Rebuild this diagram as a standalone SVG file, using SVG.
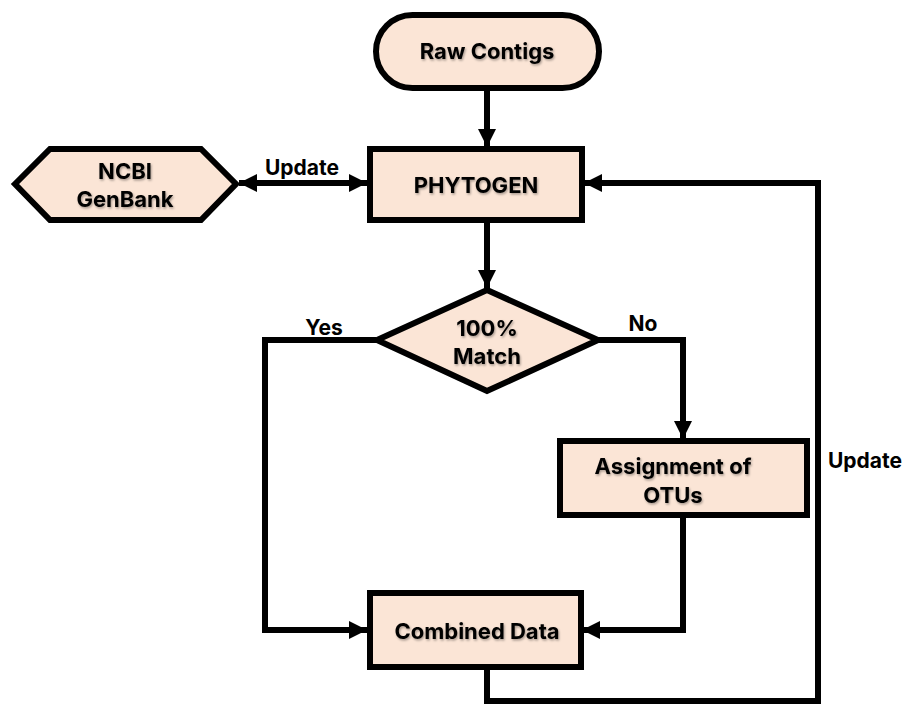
<svg xmlns="http://www.w3.org/2000/svg" width="906" height="708" viewBox="0 0 906 708">
<style>
.n{fill:#FBE5D6;stroke:#000;stroke-width:6}
.t{font-family:Inter,"Open Sans",sans-serif;font-weight:bold;font-size:22px;fill:#000;text-anchor:middle;filter:url(#sh)}
.l{font-family:Inter,"Open Sans",sans-serif;font-weight:bold;font-size:21px;fill:#000;text-anchor:middle}
.c{fill:none;stroke:#000;stroke-width:6}
</style>
<defs>
<marker id="a" markerUnits="userSpaceOnUse" markerWidth="22" markerHeight="22" viewBox="0 0 22 22" refX="20" refY="11" orient="auto-start-reverse">
<path d="M2,2 L20,11 L2,20 Z" fill="#000"/>
</marker>
<filter id="sh" x="-10%" y="-10%" width="130%" height="140%">
<feDropShadow dx="1" dy="1.5" stdDeviation="0.8" flood-color="#000" flood-opacity="0.35"/>
</filter>
</defs>
<rect width="906" height="708" fill="#fff"/>
<g id="connectors">
<line class="c" x1="487" y1="88" x2="487" y2="147" marker-end="url(#a)"/>
<line class="c" x1="239" y1="183" x2="367" y2="183" marker-start="url(#a)" marker-end="url(#a)"/>
<line class="c" x1="487" y1="221" x2="487" y2="288" marker-end="url(#a)"/>
<polyline class="c" points="376,340 265,340 265,630 367,630" marker-end="url(#a)"/>
<polyline class="c" points="598,340 683,340 683,439" marker-end="url(#a)"/>
<polyline class="c" points="683,516 683,630 582,630" marker-end="url(#a)"/>
<polyline class="c" points="487,668 487,701 818,701 818,183 584,183" marker-end="url(#a)"/>
<text class="l" x="302" y="175">Update</text>
<text class="l" x="324" y="335">Yes</text>
<text class="l" x="643" y="331">No</text>
<text class="l" x="865" y="468">Update</text>
</g>
<g id="raw">
<rect class="n" x="376" y="15" width="223" height="73" rx="36.5"/>
<text class="t" x="487" y="59">Raw Contigs</text>
</g>
<g id="ncbi">
<polygon class="n" points="15,184 50,149 201,149 236,184 201,220 50,220"/>
<text class="t" x="125" y="179">NCBI</text>
<text class="t" x="125" y="207">GenBank</text>
</g>
<g id="phytogen">
<rect class="n" x="370" y="149" width="212" height="71"/>
<text class="t" x="476" y="193">PHYTOGEN</text>
</g>
<g id="match">
<polygon class="n" points="487,290 598,340 487,391 377,340"/>
<text class="t" x="487" y="336">100%</text>
<text class="t" x="487" y="364">Match</text>
</g>
<g id="assign">
<rect class="n" x="560" y="441" width="247" height="74"/>
<text class="t" x="673" y="474">Assignment of</text>
<text class="t" x="673" y="503">OTUs</text>
</g>
<g id="combined">
<rect class="n" x="370" y="593" width="211" height="74"/>
<text class="t" x="477" y="639">Combined Data</text>
</g>
</svg>
